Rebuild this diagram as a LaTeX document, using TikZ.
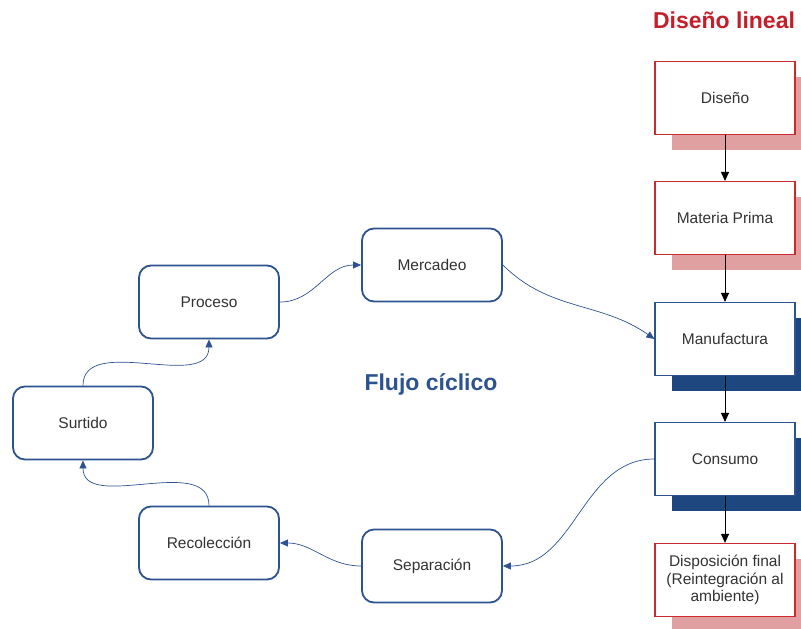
\documentclass[tikz,border=0pt]{standalone}
\usepackage{fontspec}
\setmainfont{Liberation Sans}
\usetikzlibrary{arrows.meta,shadows}
\definecolor{cycblue}{HTML}{2C5290}
\definecolor{darkshadow}{HTML}{1F477F}
\definecolor{linred}{HTML}{CC2A2E}
\definecolor{lightshadow}{HTML}{E0A0A2}
\definecolor{titlered}{HTML}{C41E2A}
\begin{document}
\begin{tikzpicture}[x=1pt, y=1pt, every node/.style = {shape=rectangle, align=center, text=black!80, font=\fontsize{15.5}{17.5}\selectfont, minimum width=140pt, minimum height=73pt, inner sep=2pt}, line width=0.3mm]
	\tikzstyle{cyc} = [draw=cycblue, rounded corners=12pt, line width=1.8pt, fill=white]
	\tikzstyle{redbox} = [draw=linred, line width=1.2pt, fill=white, drop shadow={shadow xshift=17pt, shadow yshift=-15pt, fill=lightshadow, opacity=1}]
	\tikzstyle{bluebox} = [draw=cycblue, line width=1.2pt, fill=white, drop shadow={shadow xshift=17pt, shadow yshift=-15pt, fill=darkshadow, opacity=1}]
	\tikzstyle{title} = [minimum width=0pt, minimum height=0pt, font=\fontsize{23}{26}\selectfont\bfseries]
	\tikzstyle{linarrow} = [-{Triangle[length=9pt, width=8pt]}, line width=1pt, black]
	\tikzstyle{cycarrow} = [-{Triangle[length=8pt, width=7pt]}, line width=0.7pt, cycblue]
	\useasboundingbox (0,0) rectangle (801,-629);
	\node[title, text=titlered] (lineal) at (724,-20) {Diseño lineal};
	\node[title, text=cycblue] (ciclico) at (431,-384) {Flujo cíclico};
	\node[redbox] (diseno) at (725,-98) {Diseño};
	\node[redbox] (materia) at (725,-218) {Materia Prima};
	\node[bluebox] (manufactura) at (725,-339) {Manufactura};
	\node[bluebox] (consumo) at (725,-459) {Consumo};
	\node[redbox] (disposicion) at (725,-580) {Disposición final\\(Reintegración al\\ambiente)};
	\node[cyc] (mercadeo) at (432,-265) {Mercadeo};
	\node[cyc] (proceso) at (209,-302) {Proceso};
	\node[cyc] (surtido) at (83,-423) {Surtido};
	\node[cyc] (recoleccion) at (209,-543) {Recolección};
	\node[cyc] (separacion) at (432,-566) {Separación};
	\draw[linarrow] (diseno) -- (materia);
	\draw[linarrow] (materia) -- (manufactura);
	\draw[linarrow] (manufactura) -- (consumo);
	\draw[linarrow] (consumo) -- (disposicion);
	\draw[cycarrow] (surtido.north) to[out=90, in=-90] (proceso.south);
	\draw[cycarrow] (proceso.east) to[out=0, in=180] (mercadeo.west);
	\draw[cycarrow] (mercadeo.east) to[out=-45, in=145] (manufactura.west);
	\draw[cycarrow] (consumo.west) to[out=180, in=0] (separacion.east);
	\draw[cycarrow] (separacion.west) to[out=180, in=0] (recoleccion.east);
	\draw[cycarrow] (recoleccion.north) to[out=90, in=-90] (surtido.south);
\end{tikzpicture}
\end{document}
